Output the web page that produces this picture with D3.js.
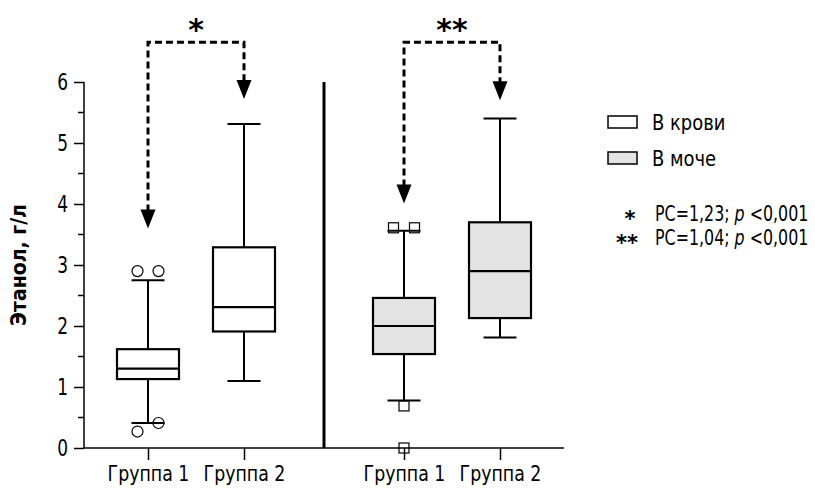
<!DOCTYPE html>
<html>
<head>
<meta charset="utf-8">
<script src="https://cdn.jsdelivr.net/npm/d3@7"></script>
<style>
  body { margin: 0; background: #fff; }
  text { font-family: "DejaVu Sans Condensed", "Liberation Sans Narrow", sans-serif; }
</style>
</head>
<body>
<script>
// data
const groups = ['Группа 1', 'Группа 2', 'Группа 1', 'Группа 2'];
const fluid = ['blood', 'blood', 'urine', 'urine'];
const whiskerLow = [0.41, 1.10, 0.78, 1.81];
const q1 = [1.13, 1.91, 1.54, 2.13];
const median = [1.30, 2.31, 2.00, 2.90];
const q3 = [1.62, 3.29, 2.46, 3.70];
const whiskerHigh = [2.75, 5.31, 3.56, 5.40];

// outliers: group index, value, jitter side
const outGroup = [0, 0, 0, 0, 2, 2, 2, 2];
const outValue = [2.90, 2.90, 0.41, 0.27, 3.61, 3.61, 0.69, 0.00];
const outSide = [-1, 1, 1, -1, -1, 1, 0, 0];

// comparison arrows
const cmpFrom = [0, 2];
const cmpTo = [1, 3];
const cmpStartVal = [3.60, 4.01];
const cmpEndVal = [5.72, 5.70];
const cmpTopVal = 6.65;
const cmpMark = ['*', '**'];

const legendLabels = ['В крови', 'В моче'];
const statMarks = ['*', '**'];
const statText = [['PC=1,23; ', 'p', ' <0,001'], ['PC=1,04; ', 'p', ' <0,001']];

const yTicks = [0, 1, 2, 3, 4, 5, 6];
const slot = [2 / 3, 5 / 3, 10 / 3, 13 / 3];
const fills = { blood: '#ffffff', urine: '#e3e3e3' };

const W = 815, H = 492;
const svg = d3.select('body').append('svg').attr('width', W).attr('height', H);

const x = d3.scaleLinear().domain([0, 5]).range([84, 564]);
const y = d3.scaleLinear().domain([0, 6]).range([448, 82]);

// narrow text: place at (tx,ty) and squeeze horizontally
function narrowText(parent, tx, ty, sx, size) {
  return parent.append('text')
    .attr('transform', `translate(${tx},${ty}) scale(${sx},1)`)
    .style('font-size', size + 'px');
}

// y axis with minor ticks
const yAxis = svg.append('g').attr('transform', 'translate(84,0)')
  .call(d3.axisLeft(y).tickValues(yTicks).tickSize(10).tickPadding(6).tickFormat(d3.format('d')));
yAxis.select('.domain').attr('stroke-width', 1.5).attr('d', `M0,${y(6)}V${y(0)}`);
yAxis.selectAll('.tick line').attr('stroke-width', 1.5);
yAxis.selectAll('.tick text')
  .style('font-size', '23px').attr('fill', '#000')
  .attr('x', -16 / 0.82).attr('transform', 'scale(0.82,1)');
yAxis.append('g').selectAll('line')
  .data(d3.range(0.5, 6, 1))
  .join('line')
  .attr('x1', -6).attr('x2', 0)
  .attr('y1', d => y(d)).attr('y2', d => y(d))
  .attr('stroke', '#000').attr('stroke-width', 1.5);

svg.append('text')
  .attr('transform', `translate(26,${(y(0) + y(6)) / 2}) rotate(-90)`)
  .attr('text-anchor', 'middle')
  .style('font-size', '21px').style('font-weight', 'bold')
  .text('Этанол, г/л');

// x axis
const xAxis = svg.append('g').attr('transform', `translate(0,${y(0)})`)
  .call(d3.axisBottom(x).tickValues(slot).tickSize(12).tickPadding(6).tickFormat((d, i) => groups[i]));
xAxis.select('.domain').attr('stroke-width', 1.5).attr('d', `M${x(0)},0H${x(5)}`);
xAxis.selectAll('.tick line').attr('stroke-width', 1.5);
xAxis.selectAll('.tick text')
  .style('font-size', '21px').attr('fill', '#000')
  .attr('transform', 'scale(0.92,1)');

// divider
svg.append('line')
  .attr('x1', x(2.5)).attr('x2', x(2.5))
  .attr('y1', y(6)).attr('y2', y(0))
  .attr('stroke', '#000').attr('stroke-width', 3);

// boxes
const boxW = 62, capW = 33;
const box = svg.append('g').selectAll('g').data(groups).join('g')
  .attr('transform', (d, i) => `translate(${x(slot[i])},0)`);
box.append('line').attr('y1', (d, i) => y(whiskerHigh[i])).attr('y2', (d, i) => y(q3[i]))
  .attr('stroke', '#000').attr('stroke-width', 2);
box.append('line').attr('y1', (d, i) => y(q1[i])).attr('y2', (d, i) => y(whiskerLow[i]))
  .attr('stroke', '#000').attr('stroke-width', 2);
box.append('line').attr('x1', -capW / 2).attr('x2', capW / 2)
  .attr('y1', (d, i) => y(whiskerHigh[i])).attr('y2', (d, i) => y(whiskerHigh[i]))
  .attr('stroke', '#000').attr('stroke-width', 2);
box.append('line').attr('x1', -capW / 2).attr('x2', capW / 2)
  .attr('y1', (d, i) => y(whiskerLow[i])).attr('y2', (d, i) => y(whiskerLow[i]))
  .attr('stroke', '#000').attr('stroke-width', 2);
box.append('rect').attr('x', -boxW / 2).attr('width', boxW)
  .attr('y', (d, i) => y(q3[i])).attr('height', (d, i) => y(q1[i]) - y(q3[i]))
  .attr('fill', (d, i) => fills[fluid[i]]).attr('stroke', '#000').attr('stroke-width', 2.2);
box.append('line').attr('x1', -boxW / 2).attr('x2', boxW / 2)
  .attr('y1', (d, i) => y(median[i])).attr('y2', (d, i) => y(median[i]))
  .attr('stroke', '#000').attr('stroke-width', 2.2);

// outliers
const outs = svg.append('g');
outValue.forEach((v, k) => {
  const cx = x(slot[outGroup[k]]) + outSide[k] * 10.5;
  const cy = y(v);
  if (fluid[outGroup[k]] === 'blood') {
    outs.append('circle').attr('cx', cx).attr('cy', cy).attr('r', 5.5)
      .attr('fill', 'none').attr('stroke', '#000').attr('stroke-width', 1.2);
  } else {
    outs.append('rect').attr('x', cx - 5).attr('y', cy - 5).attr('width', 10).attr('height', 10)
      .attr('fill', 'none').attr('stroke', '#000').attr('stroke-width', 1.2);
  }
});

// comparison arrows
const cmp = svg.append('g');
cmpFrom.forEach((g, k) => {
  const x1 = x(slot[g]), x2 = x(slot[cmpTo[k]]);
  const yTop = y(cmpTopVal);
  const yA = y(cmpStartVal[k]), yB = y(cmpEndVal[k]);
  const head = 17;
  cmp.append('path')
    .attr('d', `M${x1},${yA - head}V${yTop}H${x2}V${yB - head}`)
    .attr('fill', 'none').attr('stroke', '#000').attr('stroke-width', 3)
    .attr('stroke-dasharray', '7,4');
  [[x1, yA], [x2, yB]].forEach(([ax, ay]) => {
    cmp.append('path')
      .attr('d', `M${ax - 7.5},${ay - head - 2}L${ax + 7.5},${ay - head - 2}L${ax},${ay}Z`)
      .attr('fill', '#000');
  });
  cmp.append('text')
    .attr('x', (x1 + x2) / 2).attr('y', yTop - 2)
    .attr('text-anchor', 'middle')
    .style('font-family', 'DejaVu Sans').style('font-size', '30px').style('font-weight', 'bold')
    .text(cmpMark[k]);
});

// legend
const leg = svg.append('g');
legendLabels.forEach((t, i) => {
  const cy = 122 + i * 36;
  leg.append('rect').attr('x', 608).attr('y', cy - 6).attr('width', 29).attr('height', 12)
    .attr('fill', i === 0 ? fills.blood : fills.urine).attr('stroke', '#000').attr('stroke-width', 1.5);
  narrowText(leg, 652, cy + 8, 0.95, 21).text(t);
});
statMarks.forEach((m, i) => {
  const by = 221 + i * 24;
  leg.append('text').attr('x', i === 0 ? 630 : 627).attr('y', by + 5)
    .attr('text-anchor', 'middle')
    .style('font-family', 'DejaVu Sans').style('font-size', '21px').style('font-weight', 'bold')
    .text(m);
  const tx = narrowText(leg, 655, by, 0.84, 21);
  tx.append('tspan').text(statText[i][0]);
  tx.append('tspan').style('font-style', 'italic').text(statText[i][1]);
  tx.append('tspan').text(statText[i][2]);
});
</script>
</body>
</html>
